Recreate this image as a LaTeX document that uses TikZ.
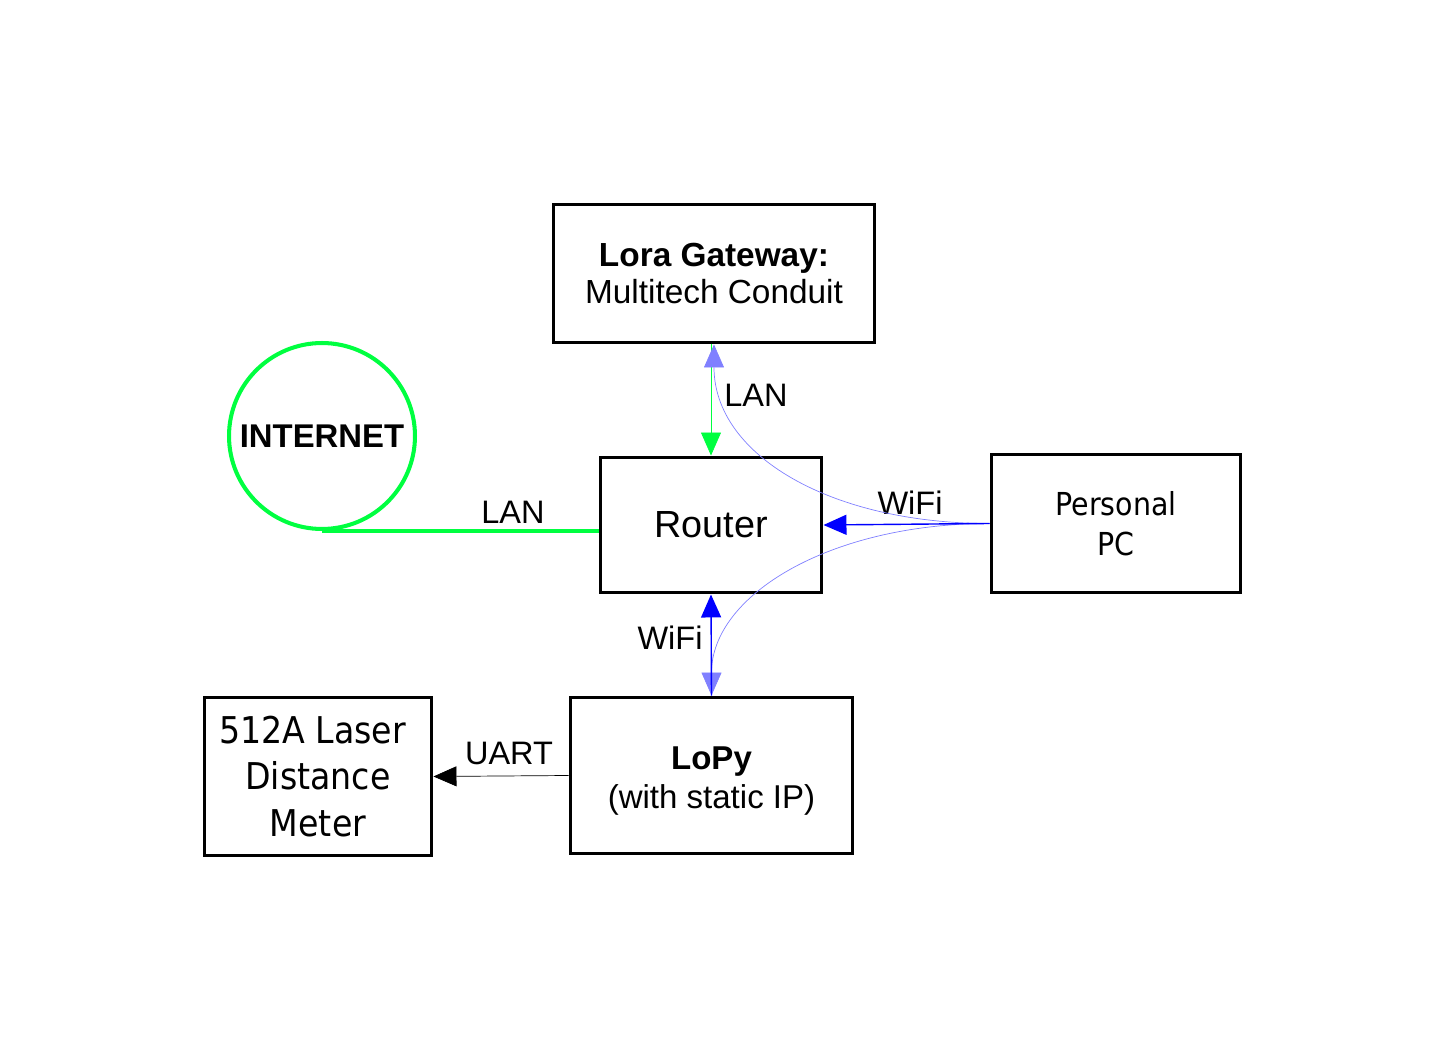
\documentclass[tikz,border=0pt]{standalone}
\usepackage{fontspec}
\setmainfont{Liberation Sans}
\newfontfamily\tahoma{DejaVu Sans Condensed}
\usepackage{tikz}
\usetikzlibrary{arrows.meta}

\definecolor{lanGreen}{RGB}{0,255,64}
\definecolor{wifiBlue}{RGB}{0,0,255}
\definecolor{wifiLight}{RGB}{128,128,255}

\begin{document}
\begin{tikzpicture}[x=0.02cm,y=-0.02cm,
	box/.style={draw,line width=1.7pt,align=center,inner sep=0pt},
	lbl/.style={font=\fontsize{18.5}{22}\selectfont},
	tip/.style={-{Triangle[length=0.46cm,width=0.4cm]}}]
	\useasboundingbox (0,0) rectangle (1445,1060);

	\node [box,minimum width=6.44cm,minimum height=2.78cm,font=\fontsize{19}{21.5}\selectfont](gw) at (714,273.5) {\textbf{Lora Gateway:}\\Multitech Conduit};
	\node [box,minimum width=4.44cm,minimum height=2.72cm,font=\fontsize{21.5}{26}\selectfont](router) at (711,525) {Router};
	\node [box,minimum width=5cm,minimum height=2.78cm,font=\tahoma\fontsize{18}{22.7}\selectfont](pc) at (1116,523.5) {Personal\\PC};
	\node [box,minimum width=5.66cm,minimum height=3.14cm,font=\fontsize{18.8}{22}\selectfont](lopy) at (711.5,775.5) {\rule{0pt}{19pt}\textbf{LoPy}\\(with static IP)};
	\node [box,minimum width=4.56cm,minimum height=3.18cm,font=\tahoma\fontsize{21}{26.4}\selectfont](laser) at (318,776.5) {512A Laser\hspace*{6pt}\\Distance\hspace*{6pt}\\\ Meter\hspace*{6pt}};
	\node [draw=lanGreen,circle,line width=2.3pt,minimum size=3.72cm,inner sep=0pt,font=\bfseries\fontsize{18.7}{22}\selectfont](net) at (322,436) {INTERNET};

	\node [lbl](lanTop) at (756,395) {LAN};
	\node [lbl](lanLeft) at (513,512) {LAN};
	\node [lbl](wifiPc) at (910,503) {WiFi};
	\node [lbl](wifiLo) at (670,638) {WiFi};
	\node [lbl](uart) at (509,753) {UART};

	\draw [line width=2.3pt,lanGreen] (net.south) -- (net.south -| router.west);
	\draw [tip,thin,lanGreen] (gw.south -| router.north) -- (router.north);
	\draw [tip,wifiLight,thin] (pc.west) .. controls +(-160,0) and +(0,110) .. (gw.south);
	\draw [tip,wifiLight,thin] (pc.west) .. controls +(-160,0) and +(0,-100) .. (lopy.north);
	\draw [tip,wifiBlue,thick] (pc.west) -- (router.east);
	\draw [tip,wifiBlue,thick] (lopy.north) -- (router.south);
	\draw [tip,black,thin] (lopy.west) -- (laser.east);
\end{tikzpicture}
\end{document}
